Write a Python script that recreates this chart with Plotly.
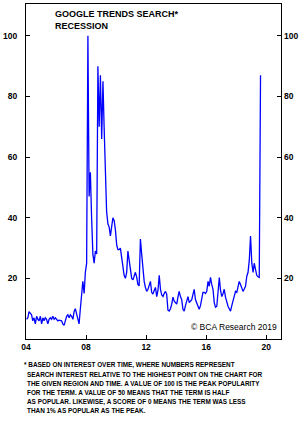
import pandas as pd
import plotly.graph_objects as go

# Monthly Google Trends index for "recession", Jan 2004 - Aug 2019
values = [
    6.5, 7, 9, 8.5, 8, 6, 7, 5, 7.5, 6.5, 6, 7.5, 5, 7, 6, 7, 6.5, 5, 6.5, 7, 6.5, 7.5,
    6.5, 7, 6.5, 6, 6.2, 6, 6, 5, 4.5, 6, 7.5, 8, 7, 8, 7.5, 6.5, 9, 10, 8, 6, 5, 10,
    14, 19, 15, 22, 25, 100, 47, 55, 40, 28, 25, 29, 28, 90, 70, 87, 66,
    85, 70, 56, 42, 38, 37, 34, 38, 40, 39, 36, 31, 29.5, 29.5, 30, 27, 24, 21, 20, 22,
    29, 26, 24, 20, 19.5, 21, 22, 20.5, 18, 17.5, 33, 28, 23, 19, 17, 15.7, 16.4, 18, 19,
    15.4, 14.8, 16, 17, 14, 16, 21, 16.4, 14.5, 14, 15, 15.7, 14.8, 9.5, 9.2, 10, 11.5,
    13.8, 12.5, 11.8, 11.5, 14, 15.7, 14, 13, 9.8, 9.2, 11, 12.5, 14, 12, 12.5, 13, 14.8,
    16.4, 13, 12, 10.5, 9.8, 11, 13, 15.4, 15.4, 15, 15.7, 19, 17.4, 20.3, 18, 16.4, 12,
    10.5, 10.8, 15, 20.3, 16, 14, 15, 16.4, 13.8, 12, 10.8, 10, 9.2, 11, 12.5, 14, 15.7,
    15.4, 17, 19, 18, 17, 15.7, 16.5, 17.4, 20.7, 22, 26, 34, 25, 22, 25, 23, 21, 20.5,
    20.3, 87,
]
dates = pd.date_range("2004-01-01", periods=len(values), freq="MS") + pd.Timedelta(days=14)

x_tick_vals = ["2004-01-01", "2008-01-01", "2012-01-01", "2016-01-01", "2020-01-01"]
x_tick_text = ["04", "08", "12", "16", "20"]
y_tick_vals = [20, 40, 60, 80, 100]
y_range = [0, 110.5]
x_range = ["2004-01-01", "2020-12-25"]

title_lines = ["GOOGLE TRENDS SEARCH*", "RECESSION"]
footnote_lines = [
    "* BASED ON INTEREST OVER TIME, WHERE NUMBERS REPRESENT",
    "SEARCH INTEREST RELATIVE TO THE HIGHEST POINT ON THE CHART FOR",
    "THE GIVEN REGION AND TIME. A VALUE OF 100 IS THE PEAK POPULARITY",
    "FOR THE TERM. A VALUE OF 50 MEANS THAT THE TERM IS HALF",
    "AS POPULAR. LIKEWISE, A SCORE OF 0 MEANS THE TERM WAS LESS",
    "THAN 1% AS POPULAR AS THE PEAK.",
]
copyright_text = "© BCA Research 2019"

W, H = 308, 421
L, R, T, B = 22, 27, 3, 82
plot_h = H - T - B


def py(ypx):
    return (H - B - ypx) / plot_h


def px(xpx):
    return (xpx - L) / (W - L - R)


FONT = "Liberation Sans, Arial, sans-serif"

fig = go.Figure()
fig.add_trace(go.Scatter(x=dates, y=values, mode="lines",
                         line=dict(color="#0000ff", width=1.3), showlegend=False,
                         hoverinfo="skip"))
fig.add_trace(go.Scatter(x=dates, y=values, mode="lines", yaxis="y2",
                         line=dict(color="rgba(0,0,0,0)", width=1), showlegend=False,
                         hoverinfo="skip"))

axis_common = dict(showgrid=False, zeroline=False, ticks="inside", ticklen=4,
                   tickwidth=1, tickcolor="black", linecolor="black", linewidth=1,
                   tickfont=dict(family=FONT, size=8.5, color="black", weight="bold"))

fig.update_layout(
    width=W, height=H,
    margin=dict(l=L, r=R, t=T, b=B, pad=0),
    paper_bgcolor="white", plot_bgcolor="white",
    xaxis=dict(range=x_range, tickvals=x_tick_vals, ticktext=x_tick_text,
               showline=True, mirror=True, **axis_common),
    yaxis=dict(range=y_range, tickvals=y_tick_vals, showline=True, mirror=True,
               side="left", ticklabelstandoff=6, **axis_common),
    yaxis2=dict(range=y_range, tickvals=y_tick_vals, overlaying="y", side="right",
                showline=False, ticklabelstandoff=2, **axis_common),
)

annotations = []
for i, t in enumerate(title_lines):
    annotations.append(dict(text=t, x=px(50), y=py(13 + i * 12.3), xref="paper", yref="paper",
                            xanchor="left", yanchor="middle", showarrow=False, borderpad=0,
                            font=dict(family=FONT, size=9, color="black", weight="bold")))
annotations.append(dict(text=copyright_text, x=px(278), y=py(327), xref="paper", yref="paper",
                        xanchor="right", yanchor="middle", showarrow=False, borderpad=0,
                        font=dict(family=FONT, size=8.5, color="black")))
for i, t in enumerate(footnote_lines):
    annotations.append(dict(text=t, x=px(19 if i == 0 else 22), y=py(365 + i * 9.2),
                            xref="paper", yref="paper", xanchor="left", yanchor="middle",
                            showarrow=False, borderpad=0,
                            font=dict(family=FONT, size=6.4, color="black", weight="bold")))
fig.update_layout(annotations=annotations)

fig.write_html("out.html")
